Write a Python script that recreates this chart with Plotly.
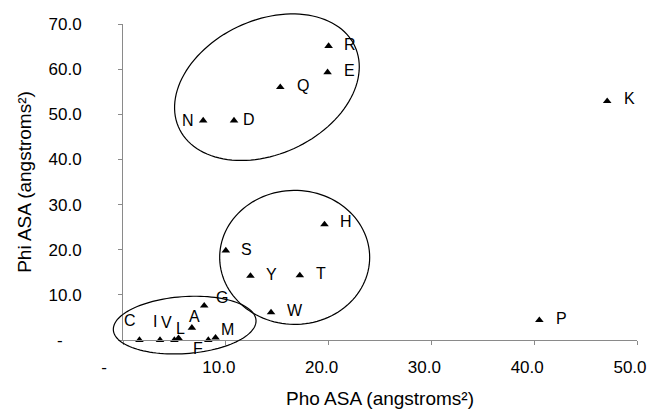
import numpy as np
import plotly.graph_objects as go

# ---- data ----
residues = ["R", "E", "Q", "N", "D", "K", "H", "S", "Y", "T", "W", "G", "P",
            "A", "C", "I", "V", "L", "F", "M"]
pho_asa = [20.0, 19.9, 15.3, 7.8, 10.8, 47.1, 19.6, 10.0, 12.4, 17.2, 14.4, 7.9, 40.5,
           6.7, 1.6, 3.6, 5.0, 5.4, 8.3, 9.0]
phi_asa = [65.1, 59.3, 56.0, 48.6, 48.6, 52.9, 25.6, 19.8, 14.2, 14.3, 6.1, 7.6, 4.4,
           2.7, 0.0, 0.0, 0.0, 0.4, 0.0, 0.5]

x_ticks = [0, 10, 20, 30, 40, 50]
y_ticks = [0, 10, 20, 30, 40, 50, 60, 70]
NB = "\u00a0"
x_ticktext = ["-" + NB * 5] + [f"{v:.1f}" for v in x_ticks[1:]]
y_ticktext = ["-" + NB * 4] + [f"{v:.1f}" for v in y_ticks[1:]]

# ---- style / layout ----
W, H = 650, 412
ML, MR, MT, MB = 123, 13, 24, 72
XR, YR = (0, 50), (0, 70)
PW, PH = W - ML - MR, H - MT - MB

# label offsets in pixels (dx right, dy down)
label_offsets = {
    "R": (21, 0), "E": (22, 0), "Q": (23, 0), "N": (-15, 1), "D": (15, 0),
    "K": (22, -1), "H": (22, -1), "S": (21, 0), "Y": (21, 0), "T": (21, 0),
    "W": (24, 0), "G": (18, -7), "P": (22, 0), "A": (3, -10), "C": (-9, -18),
    "I": (-5, -17), "V": (-8, -16), "L": (2, -8), "F": (-10, 10), "M": (12, -7),
}

# hand-drawn grouping ellipses: centre (data units), semi-axes (px), tilt (deg)
ellipses = [
    (14.0, 56.0, 97, 67, 25),
    (16.7, 18.3, 75, 67, 0),
    (6.0, 3.3, 71.5, 28.5, 4),
]

FONT = "Arial, 'Liberation Sans', sans-serif"
TICK_FS, LABEL_FS, TITLE_FS = 17, 16, 19


def ellipse_path(cx, cy, a, b, deg):
    """Closed path in paper coordinates (so it is not clipped at the axes)."""
    th = np.deg2rad(deg)
    t = np.linspace(0, 2 * np.pi, 120)
    ex = a * np.cos(t) * np.cos(th) - b * np.sin(t) * np.sin(th)
    ey = a * np.cos(t) * np.sin(th) + b * np.sin(t) * np.cos(th)
    px = (cx - XR[0]) / (XR[1] - XR[0]) + ex / PW
    py = (cy - YR[0]) / (YR[1] - YR[0]) + ey / PH
    return "M " + " L ".join(f"{x:.5f},{y:.5f}" for x, y in zip(px, py)) + " Z"


fig = go.Figure()
fig.add_trace(go.Scatter(
    x=pho_asa, y=phi_asa, mode="markers",
    marker=dict(symbol="triangle-up", size=7.5, color="black"),
    cliponaxis=False, showlegend=False,
))

for name, xv, yv in zip(residues, pho_asa, phi_asa):
    dx, dy = label_offsets[name]
    fig.add_annotation(x=xv, y=yv, text=name, showarrow=False,
                       xshift=dx, yshift=-dy + 1.5,
                       font=dict(family=FONT, size=LABEL_FS, color="black"))

for cx, cy, a, b, d in ellipses:
    fig.add_shape(type="path", path=ellipse_path(cx, cy, a, b, d),
                  xref="paper", yref="paper", line=dict(color="black", width=1.2),
                  fillcolor="rgba(0,0,0,0)")

axis_common = dict(
    showline=True, linecolor="#8a8a8a", linewidth=1,
    ticks="outside", ticklen=4, tickcolor="#8a8a8a", tickwidth=1,
    showgrid=False, zeroline=False, automargin=False,
    tickfont=dict(family=FONT, size=TICK_FS, color="black"),
    tickmode="array", ticklabeloverflow="allow",
)

fig.update_layout(
    width=W, height=H,
    margin=dict(l=ML, r=MR, t=MT, b=MB),
    paper_bgcolor="white", plot_bgcolor="white",
    font=dict(family=FONT, size=LABEL_FS, color="black"),
    xaxis=dict(range=list(XR), tickvals=x_ticks, ticktext=x_ticktext,
               ticklabelstandoff=8, ticklabelshift=-7,
               title=dict(text="Pho ASA (angstroms²)", standoff=15,
                          font=dict(family=FONT, size=TITLE_FS, color="black")),
               **axis_common),
    yaxis=dict(range=list(YR), tickvals=y_ticks, ticktext=y_ticktext,
               ticklabelstandoff=33,
               title=dict(text="Phi ASA (angstroms²)", standoff=11,
                          font=dict(family=FONT, size=TITLE_FS, color="black")),
               **axis_common),
)

fig.write_html("out.html", config={"displayModeBar": False},
               post_script="document.body.style.margin='0px';")
